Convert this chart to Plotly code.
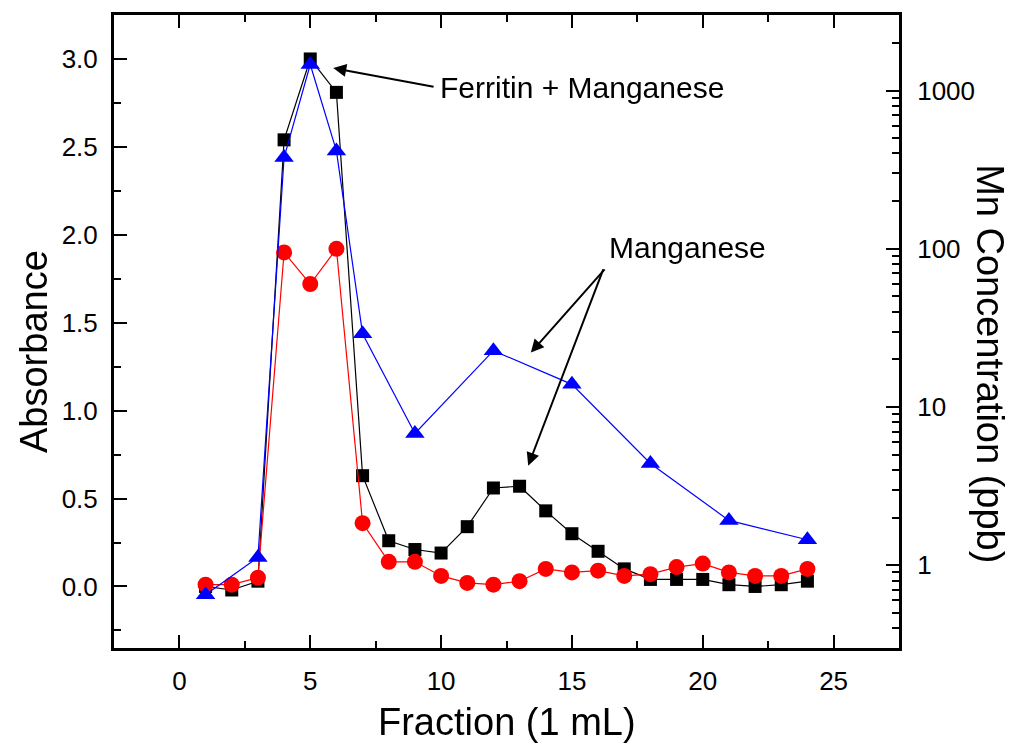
import plotly.graph_objects as go

# Fractions
fractions = list(range(1, 25))

# Absorbance (black squares)
abs_black = [0.00, -0.02, 0.03, 2.54, 3.00, 2.81, 0.63, 0.26, 0.21, 0.19, 0.34, 0.56,
             0.57, 0.43, 0.30, 0.20, 0.10, 0.04, 0.04, 0.04, 0.01, 0.00, 0.01, 0.03]

# Absorbance (red circles)
abs_red = [0.01, 0.01, 0.05, 1.90, 1.72, 1.92, 0.36, 0.14, 0.14, 0.06, 0.02, 0.01,
           0.03, 0.10, 0.08, 0.09, 0.06, 0.07, 0.11, 0.13, 0.08, 0.06, 0.06, 0.10]

# Mn concentration (blue triangles, right log axis)
mn_fractions = [1, 3, 4, 5, 6, 7, 9, 12, 15, 18, 21, 24]
mn_ppb = [0.65, 1.12, 377, 1460, 415, 29, 6.8, 22.7, 13.9, 4.4, 1.92, 1.45]

x_ticks = [0, 5, 10, 15, 20, 25]
y_ticks = [0.0, 0.5, 1.0, 1.5, 2.0, 2.5, 3.0]
y2_ticks = [1, 10, 100, 1000]
y2_ticktext = ["1", "10", "100", "1000"]
y2_minor = [0.3, 0.4, 0.5, 0.6, 0.7, 0.8, 0.9,
            2, 3, 4, 5, 6, 7, 8, 9,
            20, 30, 40, 50, 60, 70, 80, 90,
            200, 300, 400, 500, 600, 700, 800, 900,
            2000]

FONT = "Liberation Sans, Arial, Helvetica, sans-serif"
Y2_RANGE = [-0.5229, 3.4771]

fig = go.Figure()
fig.add_trace(go.Scatter(
    x=fractions, y=abs_black, mode="lines+markers",
    line=dict(color="black", width=1.2),
    marker=dict(symbol="square", size=13, color="black"),
    yaxis="y", showlegend=False))
fig.add_trace(go.Scatter(
    x=fractions, y=abs_red, mode="lines+markers",
    line=dict(color="#FF0000", width=1.2),
    marker=dict(symbol="circle", size=16, color="#FF0000"),
    yaxis="y", showlegend=False))
fig.add_trace(go.Scatter(
    x=mn_fractions, y=mn_ppb, mode="lines+markers",
    line=dict(color="#0000FF", width=1.2),
    marker=dict(symbol="triangle-up", size=17, color="#0000FF"),
    yaxis="y2", showlegend=False))
# invisible carrier trace so the major-tick axis (yaxis3) is drawn
fig.add_trace(go.Scatter(
    x=mn_fractions, y=mn_ppb, mode="markers", opacity=0, hoverinfo="skip",
    yaxis="y3", showlegend=False))

axis_common = dict(showline=True, linecolor="black", linewidth=3, showgrid=False,
                   zeroline=False, ticks="inside", ticklen=13, tickwidth=2,
                   tickcolor="black", tickfont=dict(family=FONT, size=26, color="black"))

# right axis: all ticks (minor length) with labels only on decades
y2_all = sorted(y2_ticks + y2_minor)
y2_all_text = [y2_ticktext[y2_ticks.index(v)] if v in y2_ticks else "" for v in y2_all]

fig.update_layout(
    width=1013, height=744,
    margin=dict(l=114, r=114, t=15, b=96),
    paper_bgcolor="white", plot_bgcolor="white",
    font=dict(family=FONT, color="black"),
    xaxis=dict(range=[-2.5, 27.5], tickvals=x_ticks, mirror="ticks",
               minor=dict(dtick=2.5, tick0=0, ticks="inside", ticklen=7, tickwidth=2, tickcolor="black"),
               ticklabelstandoff=8, **axis_common),
    yaxis=dict(range=[-0.35, 3.25], tickvals=y_ticks, tickformat=".1f",
               minor=dict(dtick=0.25, tick0=0, ticks="inside", ticklen=7, tickwidth=2, tickcolor="black"),
               ticklabelstandoff=8, **axis_common),
    yaxis2=dict(type="log", range=Y2_RANGE, overlaying="y", side="right",
                tickmode="array", tickvals=y2_all, ticktext=y2_all_text,
                showline=True, linecolor="black", linewidth=3, showgrid=False, zeroline=False,
                ticks="inside", ticklen=7, tickwidth=2, tickcolor="black",
                tickfont=dict(family=FONT, size=26, color="black"), ticklabelstandoff=10),
    yaxis3=dict(type="log", range=Y2_RANGE, overlaying="y", side="right",
                tickmode="array", tickvals=y2_ticks, showticklabels=False, showline=False,
                showgrid=False, zeroline=False, ticks="inside", ticklen=13, tickwidth=2,
                tickcolor="black"),
)

ann_font = dict(family=FONT, size=30, color="black")
title_font = dict(family=FONT, size=38, color="black")

annotations = [
    # arrows
    dict(x=5.88, y=2.948, ax=9.77, ay=2.840, xref="x", yref="y", axref="x", ayref="y",
         text="", showarrow=True, arrowhead=2, arrowsize=1.3, arrowwidth=2, arrowcolor="black", standoff=0),
    dict(x=13.43, y=1.330, ax=16.30, ay=1.812, xref="x", yref="y", axref="x", ayref="y",
         text="", showarrow=True, arrowhead=2, arrowsize=1.3, arrowwidth=2, arrowcolor="black", standoff=0),
    dict(x=13.33, y=0.687, ax=16.22, ay=1.812, xref="x", yref="y", axref="x", ayref="y",
         text="", showarrow=True, arrowhead=2, arrowsize=1.3, arrowwidth=2, arrowcolor="black", standoff=0),
    # labels
    dict(x=9.9, y=2.836, xref="x", yref="y", text="Ferritin + Manganese", showarrow=False,
         xanchor="left", yanchor="middle", font=ann_font),
    dict(x=16.35, y=1.925, xref="x", yref="y", text="Manganese", showarrow=False,
         xanchor="left", yanchor="middle", font=ann_font),
    # axis titles
    dict(x=0.5, y=0, xref="paper", yref="paper", yshift=-74, text="Fraction (1 mL)",
         showarrow=False, xanchor="center", yanchor="middle", font=title_font),
    dict(x=0, y=0.4676, xref="paper", yref="paper", xshift=-80, text="Absorbance",
         showarrow=False, xanchor="center", yanchor="middle", textangle=-90, font=title_font),
    dict(x=1, y=0.45, xref="paper", yref="paper", xshift=91, text="Mn Concentration (ppb)",
         showarrow=False, xanchor="center", yanchor="middle", textangle=90, font=title_font),
]
fig.update_layout(annotations=annotations)

fig.write_html("out.html")
